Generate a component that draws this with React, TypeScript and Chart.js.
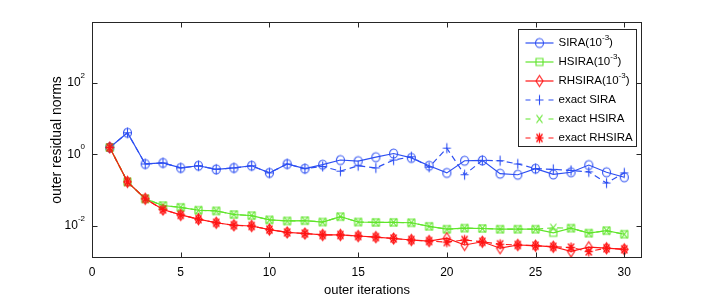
import { useEffect, useRef } from "react";
import { Chart, registerables } from "chart.js";

Chart.register(...registerables);

const ITERATIONS = [1, 2, 3, 4, 5, 6, 7, 8, 9, 10, 11, 12, 13, 14, 15, 16, 17, 18, 19, 20, 21, 22, 23, 24, 25, 26, 27, 28, 29, 30];

const SIRA = [1.55, 3.98, 0.537, 0.575, 0.417, 0.479, 0.38, 0.417, 0.479, 0.302, 0.537, 0.398, 0.513, 0.692, 0.646, 0.832, 1.05, 0.794, 0.479, 0.302, 0.661, 0.676, 0.288, 0.269, 0.398, 0.275, 0.316, 0.501, 0.316, 0.229];
const EXACT_SIRA = [1.55, 3.98, 0.537, 0.575, 0.417, 0.479, 0.38, 0.417, 0.479, 0.302, 0.537, 0.398, 0.457, 0.339, 0.479, 0.417, 0.692, 0.851, 0.437, 1.48, 0.269, 0.676, 0.661, 0.537, 0.398, 0.38, 0.355, 0.324, 0.158, 0.302];
const HSIRA = [1.55, 0.17, 0.0575, 0.0372, 0.0331, 0.0275, 0.0263, 0.0209, 0.0195, 0.0148, 0.0138, 0.0141, 0.0129, 0.0182, 0.0129, 0.0126, 0.0126, 0.0123, 0.00977, 0.00813, 0.00871, 0.00851, 0.00813, 0.00813, 0.00813, 0.00646, 0.00871, 0.00631, 0.00741, 0.00589];
const EXACT_HSIRA = [1.55, 0.17, 0.0575, 0.0372, 0.0331, 0.0275, 0.0263, 0.0209, 0.0195, 0.0148, 0.0138, 0.0141, 0.0129, 0.0182, 0.0129, 0.0126, 0.0126, 0.0123, 0.00977, 0.00813, 0.00871, 0.00851, 0.00813, 0.00813, 0.00813, 0.00891, 0.00871, 0.00631, 0.00741, 0.00589];
const RHSIRA = [1.55, 0.17, 0.0575, 0.0288, 0.0204, 0.0155, 0.0123, 0.0105, 0.01, 0.00794, 0.00661, 0.00617, 0.00562, 0.00562, 0.00525, 0.0049, 0.00447, 0.00407, 0.0038, 0.00457, 0.00295, 0.00363, 0.0024, 0.00295, 0.00282, 0.00263, 0.00195, 0.00257, 0.0024, 0.00224];
const EXACT_RHSIRA = [1.55, 0.17, 0.0575, 0.0288, 0.0204, 0.0155, 0.0123, 0.0105, 0.01, 0.00794, 0.00661, 0.00617, 0.00562, 0.00562, 0.00525, 0.0049, 0.00447, 0.00407, 0.0038, 0.00355, 0.00407, 0.00363, 0.00309, 0.00295, 0.00282, 0.00263, 0.00251, 0.00195, 0.0024, 0.00224];

const X_TICKS = [0, 5, 10, 15, 20, 25, 30];
const Y_TICKS = [1e-2, 1, 1e2];
const Y_TICK_EXPONENTS = ["-2", "0", "2"];

const X_TITLE = "outer iterations";
const Y_TITLE = "outer residual norms";

// legend label parts: [base, superscript, after]
const LEGEND_LABELS: [string, string, string][] = [
  ["SIRA(10", "-3", ")"],
  ["HSIRA(10", "-3", ")"],
  ["RHSIRA(10", "-3", ")"],
  ["exact SIRA", "", ""],
  ["exact HSIRA", "", ""],
  ["exact RHSIRA", "", ""],
];

const BLUE = "#2d4ff2";
const GREEN = "#5fe52a";
const RED = "#ff1414";
const FONT = "'Liberation Sans', Arial, Helvetica, sans-serif";

function makeMarker(kind: string, color: string): HTMLCanvasElement {
  const c = document.createElement("canvas");
  const w = 13;
  const h = 15;
  c.width = w;
  c.height = h;
  const ctx = c.getContext("2d")!;
  ctx.strokeStyle = color;
  ctx.lineWidth = kind === "star" ? 1.3 : 1.1;
  const cx = w / 2;
  const cy = h / 2;
  ctx.beginPath();
  const plus = () => {
    ctx.moveTo(cx, cy - 5);
    ctx.lineTo(cx, cy + 5);
    ctx.moveTo(cx - 4, cy);
    ctx.lineTo(cx + 4, cy);
  };
  const cross = () => {
    ctx.moveTo(cx - 3, cy - 4);
    ctx.lineTo(cx + 3, cy + 4);
    ctx.moveTo(cx + 3, cy - 4);
    ctx.lineTo(cx - 3, cy + 4);
  };
  if (kind === "circle") ctx.ellipse(cx, cy, 4, 4.5, 0, 0, Math.PI * 2);
  else if (kind === "square") ctx.rect(cx - 3.5, cy - 3.5, 7, 7);
  else if (kind === "diamond") {
    ctx.moveTo(cx, cy - 5.5);
    ctx.lineTo(cx + 3.5, cy);
    ctx.lineTo(cx, cy + 5.5);
    ctx.lineTo(cx - 3.5, cy);
    ctx.closePath();
  } else if (kind === "plus") plus();
  else if (kind === "cross") cross();
  else if (kind === "star") {
    plus();
    cross();
  }
  ctx.stroke();
  return c;
}

export default function App() {
  const ref = useRef<HTMLCanvasElement | null>(null);

  useEffect(() => {
    if (!ref.current) return;
    const markers = [
      makeMarker("circle", BLUE),
      makeMarker("square", GREEN),
      makeMarker("diamond", RED),
      makeMarker("plus", BLUE),
      makeMarker("cross", GREEN),
      makeMarker("star", RED),
    ];
    const colors = [BLUE, GREEN, RED, BLUE, GREEN, RED];
    const series = [SIRA, HSIRA, RHSIRA, EXACT_SIRA, EXACT_HSIRA, EXACT_RHSIRA];
    const dashed = [false, false, false, true, true, true];

    const datasets = series.map((s, i) => ({
      label: LEGEND_LABELS[i].join(""),
      data: ITERATIONS.map((x, j) => ({ x, y: s[j] })),
      borderColor: colors[i],
      backgroundColor: colors[i],
      borderWidth: 1.2,
      borderDash: dashed[i] ? [6, 4] : [],
      pointStyle: markers[i] as any,
      pointRadius: 5,
      pointHoverRadius: 5,
      tension: 0,
      fill: false,
      order: 6 - i,
    }));

    const framePlugin = {
      id: "frameLegend",
      afterDraw(chart: any) {
        const ctx: CanvasRenderingContext2D = chart.ctx;
        const { left, right, top, bottom } = chart.chartArea;
        const xs = chart.scales.x;
        const ys = chart.scales.y;
        const L = Math.round(left) + 0.5;
        const R = Math.round(right) - 0.5;
        const T = Math.round(top) + 0.5;
        const B = Math.round(bottom) - 0.5;
        ctx.save();
        ctx.strokeStyle = "#262626";
        ctx.lineWidth = 1;
        ctx.setLineDash([]);
        ctx.strokeRect(L, T, R - L, B - T);
        ctx.beginPath();
        const tl = 5;
        X_TICKS.forEach((v) => {
          const px = Math.round(xs.getPixelForValue(v)) + 0.5;
          ctx.moveTo(px, B);
          ctx.lineTo(px, B - tl);
          ctx.moveTo(px, T);
          ctx.lineTo(px, T + tl);
        });
        Y_TICKS.forEach((v) => {
          const py = Math.round(ys.getPixelForValue(v)) + 0.5;
          ctx.moveTo(L, py);
          ctx.lineTo(L + tl, py);
          ctx.moveTo(R, py);
          ctx.lineTo(R - tl, py);
        });
        ctx.stroke();

        // y tick labels (10 with superscript exponent)
        ctx.fillStyle = "#000";
        ctx.textBaseline = "middle";
        ctx.textAlign = "left";
        Y_TICKS.forEach((v, i) => {
          const py = ys.getPixelForValue(v);
          ctx.font = `12px ${FONT}`;
          const wb = ctx.measureText("10").width;
          ctx.font = `8px ${FONT}`;
          const ws = ctx.measureText(Y_TICK_EXPONENTS[i]).width;
          const xEnd = left - 7;
          const x0 = xEnd - wb - ws;
          ctx.font = `12px ${FONT}`;
          ctx.fillText("10", x0, py);
          ctx.font = `8px ${FONT}`;
          ctx.fillText(Y_TICK_EXPONENTS[i], x0 + wb, py - 7);
        });

        // legend box
        const bw = 118;
        const bh = 117;
        const bx = Math.round(right) - 6 - bw + 0.5;
        const by = Math.round(top) + 7 + 0.5;
        ctx.fillStyle = "#fff";
        ctx.fillRect(bx, by, bw, bh);
        ctx.strokeStyle = "#262626";
        ctx.strokeRect(bx, by, bw, bh);
        LEGEND_LABELS.forEach((parts, i) => {
          const ry = by + 13.5 + i * 19;
          const lx0 = bx + 7;
          const lx1 = bx + 35;
          const mx = (lx0 + lx1) / 2;
          ctx.strokeStyle = colors[i];
          ctx.lineWidth = 1.2;
          ctx.beginPath();
          if (dashed[i]) {
            ctx.moveTo(lx0, ry);
            ctx.lineTo(lx0 + 5, ry);
            ctx.moveTo(lx1 - 5, ry);
            ctx.lineTo(lx1, ry);
          } else {
            ctx.moveTo(lx0, ry);
            ctx.lineTo(lx1, ry);
          }
          ctx.stroke();
          const m = markers[i];
          ctx.drawImage(m, mx - m.width / 2, ry - m.height / 2);
          ctx.fillStyle = "#000";
          let tx = bx + 40;
          ctx.font = `11.5px ${FONT}`;
          ctx.fillText(parts[0], tx, ry);
          tx += ctx.measureText(parts[0]).width;
          if (parts[1]) {
            ctx.font = `8px ${FONT}`;
            ctx.fillText(parts[1], tx, ry - 5);
            tx += ctx.measureText(parts[1]).width;
          }
          if (parts[2]) {
            ctx.font = `11.5px ${FONT}`;
            ctx.fillText(parts[2], tx, ry);
          }
        });
        ctx.restore();
      },
    };

    const chart = new Chart(ref.current, {
      type: "line",
      data: { datasets: datasets as any },
      options: {
        animation: false,
        responsive: false,
        maintainAspectRatio: false,
        events: [],
        layout: { padding: { left: 0, top: 22, right: 66, bottom: 0 } },
        plugins: {
          legend: { display: false },
          tooltip: { enabled: false },
          title: { display: false },
        },
        scales: {
          x: {
            type: "linear",
            min: 0,
            max: 31,
            afterBuildTicks: (s: any) => {
              s.ticks = X_TICKS.map((v) => ({ value: v }));
            },
            afterFit: (s: any) => {
              s.height = 42;
            },
            grid: { display: false, drawTicks: false },
            border: { display: false },
            ticks: {
              color: "#000",
              font: { family: FONT, size: 12 },
              padding: 7,
              maxRotation: 0,
              autoSkip: false,
            },
            title: {
              display: true,
              text: X_TITLE,
              color: "#000",
              font: { family: FONT, size: 13 },
              padding: { top: 0, bottom: 2 },
            },
          },
          y: {
            type: "logarithmic",
            min: Math.pow(10, -2.893),
            max: Math.pow(10, 3.69),
            afterBuildTicks: (s: any) => {
              s.ticks = Y_TICKS.map((v) => ({ value: v }));
            },
            afterFit: (s: any) => {
              s.width = 92;
            },
            grid: { display: false, drawTicks: false },
            border: { display: false },
            ticks: { display: false },
            title: {
              display: true,
              text: Y_TITLE,
              color: "#000",
              font: { family: FONT, size: 14 },
              padding: { top: 49, bottom: 0 },
            },
          },
        },
      },
      plugins: [framePlugin],
    } as any);

    return () => chart.destroy();
  }, []);

  return (
    <div style={{ position: "absolute", left: 0, top: 0, width: 708, height: 300, background: "#fff" }}>
      <canvas ref={ref} width={708} height={300} style={{ display: "block", width: 708, height: 300 }} />
    </div>
  );
}
